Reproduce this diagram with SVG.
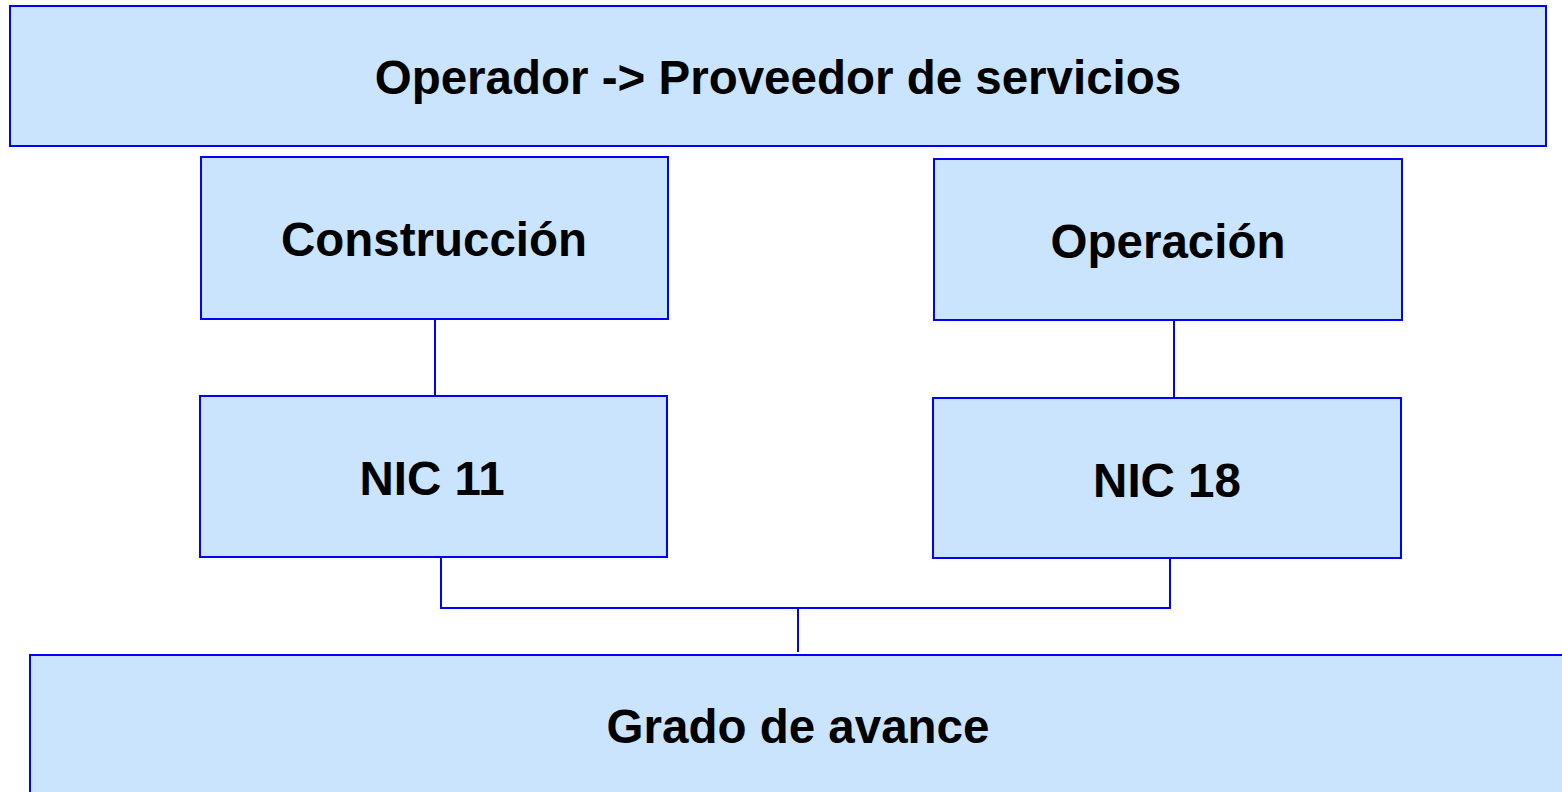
<svg xmlns="http://www.w3.org/2000/svg" width="1562" height="792" viewBox="0 0 1562 792">
<style>
.box{fill:#CBE4FD;stroke:#0000FF;stroke-width:2}
.lbl{font-family:"Liberation Sans",Arial,sans-serif;font-weight:bold;font-size:47.5px;fill:#000;text-anchor:middle}
.con{fill:none;stroke:#0000FF;stroke-width:2}
</style>
<rect width="1562" height="792" fill="#fff"/>
<g id="top"><rect class="box" x="10" y="6" width="1536" height="140"/><text class="lbl" x="778" y="94">Operador -&gt; Proveedor de servicios</text></g>
<g id="construccion"><rect class="box" x="201" y="157" width="467" height="162"/><text class="lbl" x="434" y="256">Construcción</text></g>
<g id="operacion"><rect class="box" x="934" y="159" width="468" height="161"/><text class="lbl" x="1168" y="258">Operación</text></g>
<g id="nic11"><rect class="box" x="200" y="396" width="467" height="161"/><text class="lbl" x="432" y="495">NIC 11</text></g>
<g id="nic18"><rect class="box" x="933" y="398" width="468" height="160"/><text class="lbl" x="1167" y="497">NIC 18</text></g>
<g id="grado"><rect class="box" x="30" y="655" width="1540" height="150"/><text class="lbl" x="798" y="743">Grado de avance</text></g>
<g id="connectors">
<path class="con" d="M435 319V396"/>
<path class="con" d="M1174 320V398"/>
<path class="con" d="M441 557V608H1170V558"/>
<path class="con" d="M798 608V652"/>
</g>
</svg>
